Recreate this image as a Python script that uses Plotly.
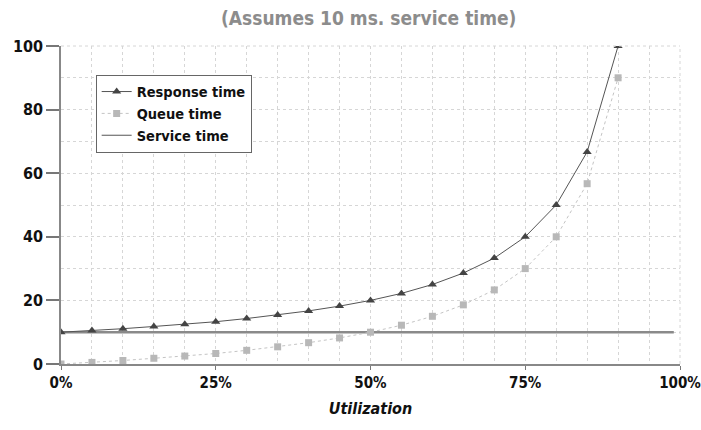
import plotly.graph_objects as go

utilization = [0, 5, 10, 15, 20, 25, 30, 35, 40, 45, 50, 55, 60, 65, 70, 75, 80, 85, 90]
response_time = [10, 10.5, 11.1, 11.8, 12.5, 13.3, 14.3, 15.4, 16.7, 18.2, 20, 22.2, 25, 28.6, 33.3, 40, 50, 66.7, 100]
queue_time = [0, 0.5, 1.1, 1.8, 2.5, 3.3, 4.3, 5.4, 6.7, 8.2, 10, 12.2, 15, 18.6, 23.3, 30, 40, 56.7, 90]
service_x = [0, 99]
service_time = [10, 10]

x_ticks = [0, 25, 50, 75, 100]
x_labels = ["0%", "25%", "50%", "75%", "100%"]
y_ticks = [0, 20, 40, 60, 80, 100]

FONT = "DejaVu Sans Condensed, Liberation Sans Narrow, sans-serif"
GRID = "#d6d6d6"

fig = go.Figure()
fig.add_trace(go.Scatter(
    x=service_x, y=service_time, mode="lines", name="Service time",
    line=dict(color="#8a8a8a", width=2.5), showlegend=False))
fig.add_trace(go.Scatter(
    x=utilization, y=response_time, mode="lines+markers", name="<b>Response time</b>",
    line=dict(color="#555555", width=1),
    marker=dict(symbol="triangle-up", size=8, color="#444444")))
fig.add_trace(go.Scatter(
    x=utilization, y=queue_time, mode="lines+markers", name="<b>Queue time</b>",
    line=dict(color="#c4c4c4", width=1, dash="dot"),
    marker=dict(symbol="square", size=7, color="#b8b8b8")))
fig.add_trace(go.Scatter(
    x=[None], y=[None], mode="lines", name="<b>Service time</b>",
    line=dict(color="#555555", width=1)))

fig.update_layout(
    width=701, height=430,
    margin=dict(l=61, r=21, t=46, b=66),
    paper_bgcolor="white", plot_bgcolor="white",
    font=dict(family=FONT, color="#111111", size=14),
    title=dict(text="<b>(Assumes 10 ms. service time)</b>", x=0.526, xanchor="center",
               y=0.958, yanchor="middle", font=dict(family=FONT, size=19, color="#8c8c8c")),
    legend=dict(x=0.056, y=0.91, xanchor="left", yanchor="top", traceorder="normal",
                bgcolor="white", bordercolor="#666666", borderwidth=1,
                font=dict(family=FONT, size=14.5, color="#111111"),
                itemwidth=30, tracegroupgap=0),
    xaxis=dict(range=[0, 100], tickvals=x_ticks, ticktext=x_labels, automargin=False,
               ticks="outside", ticklen=4, tickcolor="#777777",
               ticklabeloverflow="allow",
               showline=True, linecolor="#888888", linewidth=1.5,
               showgrid=True, gridcolor=GRID, griddash="dot", gridwidth=1,
               minor=dict(dtick=5, showgrid=True, gridcolor=GRID, griddash="dot", gridwidth=1),
               zeroline=False,
               tickfont=dict(family=FONT, size=15, color="#111111", weight="bold"),
               title=dict(text="<b><i>Utilization</i></b>", standoff=12,
                          font=dict(family=FONT, size=16, color="#111111"))),
    yaxis=dict(range=[0, 100], tickvals=y_ticks, automargin=False,
               ticks="outside", ticklen=13, tickcolor="#777777", tickwidth=1.5,
               showline=True, linecolor="#888888", linewidth=1.5,
               showgrid=True, gridcolor=GRID, griddash="dot", gridwidth=1,
               minor=dict(dtick=10, showgrid=True, gridcolor=GRID, griddash="dot", gridwidth=1),
               zeroline=False,
               tickfont=dict(family=FONT, size=16, color="#111111", weight="bold")),
)
fig.add_shape(type="line", xref="paper", yref="paper", x0=1, x1=1, y0=0, y1=1,
              line=dict(color=GRID, width=1, dash="dot"))
fig.add_shape(type="line", xref="paper", yref="paper", x0=0, x1=1, y0=1, y1=1,
              line=dict(color=GRID, width=1, dash="dot"))

fig.write_html("out.html", config={"displayModeBar": False},
               post_script="document.body.style.margin='0';document.body.style.overflow='hidden';")
